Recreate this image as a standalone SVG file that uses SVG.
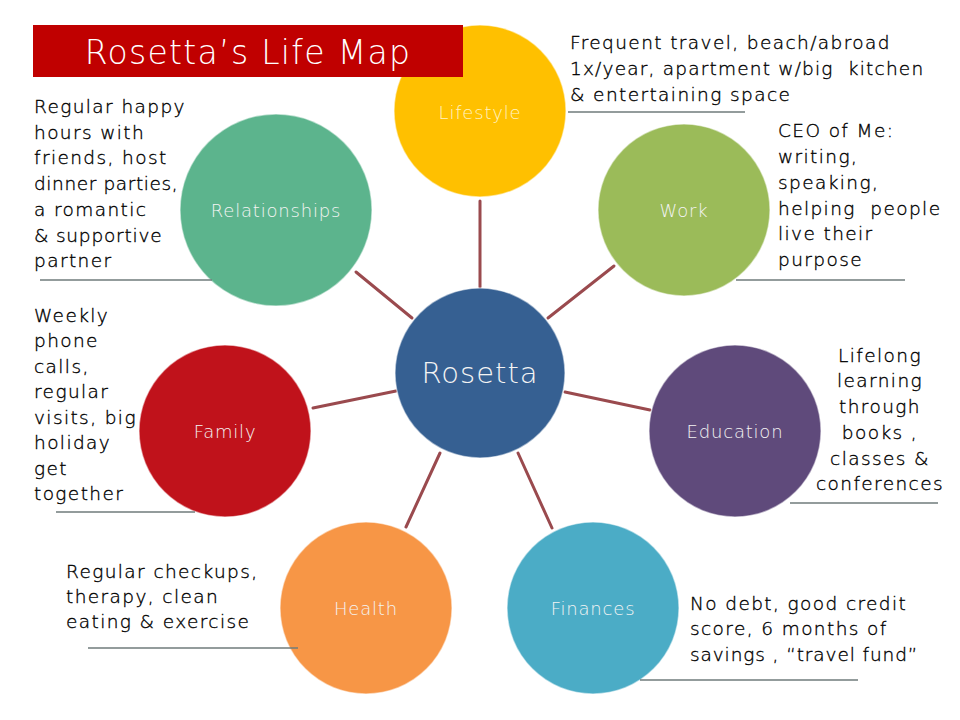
<svg xmlns="http://www.w3.org/2000/svg" width="960" height="720" viewBox="0 0 960 720">
<style>
.t{font-family:"DejaVu Sans","Liberation Sans",sans-serif;font-size:18.5px;font-weight:200;fill:#000000;stroke:#000000;stroke-width:0.35px;letter-spacing:1.4px}
.p{white-space:pre}
.c{font-family:"DejaVu Sans","Liberation Sans",sans-serif;font-size:18px;font-weight:200;fill:#f4f4f4;text-anchor:middle;dominant-baseline:central;letter-spacing:0.8px}
.u{stroke:#6f7b7b;stroke-width:1.5}
.k{stroke:#9a4a4e;stroke-width:3;stroke-linecap:round}
circle{stroke:#ffffff;stroke-opacity:0.5;stroke-width:1.5}
</style>
<rect width="960" height="720" fill="#ffffff"/>
<g id="connectors">
<line class="k" x1="480" y1="201" x2="480" y2="287"/>
<line class="k" x1="356" y1="272" x2="412" y2="318"/>
<line class="k" x1="548" y1="318" x2="614" y2="266"/>
<line class="k" x1="313" y1="408" x2="396" y2="391"/>
<line class="k" x1="565" y1="392" x2="650" y2="410"/>
<line class="k" x1="440" y1="453" x2="406" y2="527"/>
<line class="k" x1="518" y1="453" x2="552" y2="528"/>
</g>
<g id="lifestyle">
<circle cx="480" cy="111" r="86" fill="#ffc000"/>
<text class="c" x="480" y="112" style="fill:#fff3c4">Lifestyle</text>
</g>
<g id="title">
<rect x="33" y="25" width="430" height="52" fill="#c00000"/>
<text x="248" y="52" font-family="DejaVu Sans, Liberation Sans, sans-serif" font-weight="200" font-size="33" fill="#ffffff" text-anchor="middle" dominant-baseline="central" letter-spacing="1.3">Rosetta’s Life Map</text>
</g>
<g id="lifestyle-note">
<text class="t" x="570" y="49">Frequent travel, beach/abroad</text>
<text class="t p" x="570" y="75" style="letter-spacing:1.2px">1x/year, apartment w/big  kitchen</text>
<text class="t" x="570" y="101">&amp; entertaining space</text>
<line class="u" x1="568" y1="112" x2="745" y2="112"/>
</g>
<g id="relationships">
<circle cx="276" cy="210" r="96" fill="#5cb48d"/>
<text class="c" x="276" y="210">Relationships</text>
</g>
<g id="relationships-note">
<text class="t" x="34" y="113">Regular happy</text>
<text class="t" x="34" y="139">hours with</text>
<text class="t" x="34" y="164">friends, host</text>
<text class="t" x="34" y="190" style="letter-spacing:0.6px">dinner parties,</text>
<text class="t" x="34" y="216">a romantic</text>
<text class="t" x="34" y="242" style="letter-spacing:0.8px">&amp; supportive</text>
<text class="t" x="34" y="267">partner</text>
<line class="u" x1="40" y1="280" x2="212" y2="280"/>
</g>
<g id="work">
<circle cx="684" cy="210" r="86" fill="#9bbb59"/>
<text class="c" x="684" y="210">Work</text>
</g>
<g id="work-note">
<text class="t" x="778" y="137">CEO of Me:</text>
<text class="t" x="778" y="163">writing,</text>
<text class="t" x="778" y="189">speaking,</text>
<text class="t p" x="778" y="215">helping  people</text>
<text class="t" x="778" y="240">live their</text>
<text class="t" x="778" y="266">purpose</text>
<line class="u" x1="736" y1="280" x2="905" y2="280"/>
</g>
<g id="rosetta">
<circle cx="480" cy="373" r="85" fill="#366092"/>
<text class="c" x="480" y="373" style="font-size:29px;letter-spacing:1px">Rosetta</text>
</g>
<g id="family">
<circle cx="225" cy="431" r="86" fill="#c0121b"/>
<text class="c" x="225" y="431">Family</text>
</g>
<g id="family-note">
<text class="t" x="34" y="322">Weekly</text>
<text class="t" x="34" y="347">phone</text>
<text class="t" x="34" y="373">calls,</text>
<text class="t" x="34" y="398">regular</text>
<text class="t" x="34" y="424">visits, big</text>
<text class="t" x="34" y="449">holiday</text>
<text class="t" x="34" y="475">get</text>
<text class="t" x="34" y="500">together</text>
<line class="u" x1="56" y1="512" x2="195" y2="512"/>
</g>
<g id="education">
<circle cx="735" cy="431" r="86" fill="#5f4a7b"/>
<text class="c" x="735" y="431">Education</text>
</g>
<g id="education-note">
<text class="t" x="880" y="362" text-anchor="middle">Lifelong</text>
<text class="t" x="880" y="387" text-anchor="middle">learning</text>
<text class="t" x="880" y="413" text-anchor="middle">through</text>
<text class="t" x="880" y="439" text-anchor="middle">books ,</text>
<text class="t" x="880" y="465" text-anchor="middle">classes &amp;</text>
<text class="t" x="880" y="490" text-anchor="middle">conferences</text>
<line class="u" x1="790" y1="503" x2="938" y2="503"/>
</g>
<g id="health">
<circle cx="366" cy="608" r="86" fill="#f79646"/>
<text class="c" x="366" y="608">Health</text>
</g>
<g id="health-note">
<text class="t" x="66" y="578">Regular checkups,</text>
<text class="t" x="66" y="603">therapy, clean</text>
<text class="t" x="66" y="628">eating &amp; exercise</text>
<line class="u" x1="88" y1="648" x2="298" y2="648"/>
</g>
<g id="finances">
<circle cx="593" cy="608" r="86" fill="#4bacc6"/>
<text class="c" x="593" y="608">Finances</text>
</g>
<g id="finances-note">
<text class="t" x="690" y="610">No debt, good credit</text>
<text class="t" x="690" y="635">score, 6 months of</text>
<text class="t" x="690" y="661" style="letter-spacing:0.9px">savings , “travel fund”</text>
<line class="u" x1="640" y1="680" x2="858" y2="680"/>
</g>
</svg>
